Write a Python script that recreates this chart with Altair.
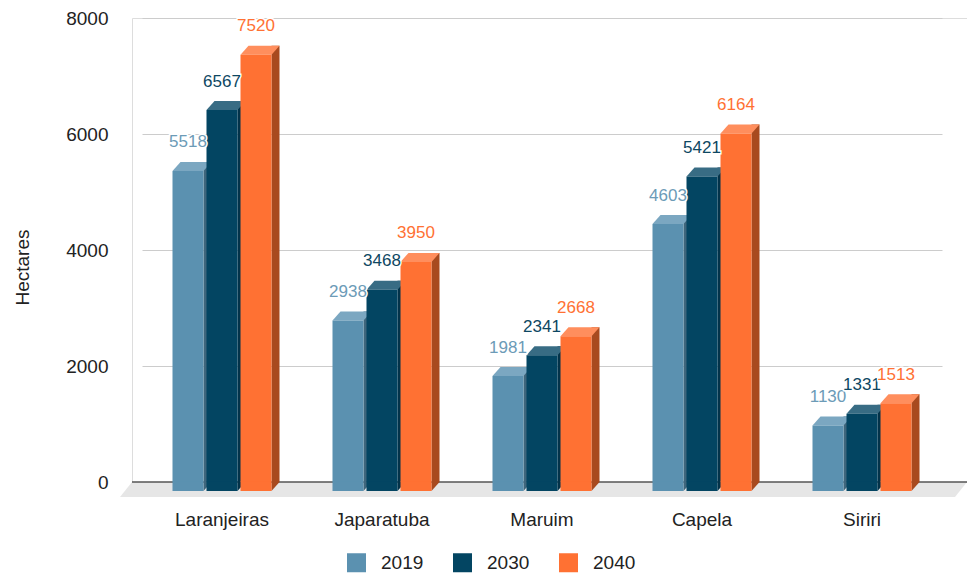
import altair as alt
import pandas as pd

regions = ["Laranjeiras", "Japaratuba", "Maruim", "Capela", "Siriri"]
years = ["2019", "2030", "2040"]
v2019 = [5518, 2938, 1981, 4603, 1130]
v2030 = [6567, 3468, 2341, 5421, 1331]
v2040 = [7520, 3950, 2668, 6164, 1513]
y_ticks = [0, 2000, 4000, 6000, 8000]

front_colors = ["#5b91b0", "#034562", "#ff7133"]
top_colors = ["#7ba7c1", "#386c84", "#ff8e5d"]
side_colors = ["#3f667c", "#02334a", "#a84a1f"]
label_colors = ["#6c9bb7", "#0d4762", "#ff7133"]
series_shift = [-34, 0, 34]

rows = []
for yr, vals in zip(years, [v2019, v2030, v2040]):
    for r, v in zip(regions, vals):
        rows.append({"region": r, "year": yr, "value": v})
df = pd.DataFrame(rows)

W, H = 835, 464
FONT = "Liberation Sans"

x_enc = alt.X(
    "region:N", sort=regions,
    scale=alt.Scale(range=[10, 810], paddingInner=0, paddingOuter=0),
    axis=alt.Axis(title=None, labelFontSize=19, labelColor="#222222", labelFont=FONT,
                  ticks=False, domain=False, labelPadding=28, labelAngle=0),
)
y_enc = alt.Y(
    "value:Q", stack=None,
    scale=alt.Scale(domain=[0, 8000], nice=False, zero=True),
    axis=alt.Axis(values=y_ticks, format="d", title="Hectares", titleFontSize=19,
                  titleFont=FONT, titleFontWeight="normal", titleColor="#222222",
                  titleAngle=-90, titleX=-110, titleY=249, titleAlign="center",
                  titleBaseline="middle",
                  labelFontSize=19, labelFont=FONT, labelColor="#222222",
                  labelPadding=24, ticks=False, domain=False,
                  grid=True, gridColor="#cccccc", gridWidth=1),
)
y_zero = alt.Y(datum=0)

color_legend = alt.Color(
    "year:N", sort=years, scale=alt.Scale(domain=years, range=front_colors),
    legend=alt.Legend(
        title=None, orient="none", direction="horizontal", legendX=215, legendY=535,
        symbolType="square", symbolSize=361, symbolStrokeWidth=0,
        labelFontSize=19, labelFont=FONT, labelColor="#222222",
        labelOffset=15, columnPadding=29, padding=0))

floor_df = pd.DataFrame({"v": [0]})
layers = [
    alt.Chart(floor_df).mark_point(
        shape="M0,0L835,0L823,15L-12,15Z", size=4, filled=True, opacity=1,
        strokeWidth=0, color="#e6e6e6"
    ).encode(x=alt.value(0), y=alt.Y("v:Q")),
    alt.Chart(floor_df).mark_rule(color="#555555", strokeWidth=1.5).encode(
        x=alt.value(0), x2=alt.value(W), y=alt.Y("v:Q")),
]

for i, yr in enumerate(years):
    s = series_shift[i]
    base = alt.Chart(df).transform_filter(alt.datum.year == yr)
    pt = dict(size=4, filled=True, opacity=1, strokeWidth=0)
    # side face: rectangle + bottom triangle
    layers.append(base.mark_bar(width=8, xOffset=s + 19.5, color=side_colors[i]).encode(
        x=x_enc, y=y_enc))
    layers.append(base.mark_point(shape="M15.5,0L23.5,0L15.5,9Z", xOffset=s,
                                  color=side_colors[i], **pt).encode(x=x_enc, y=y_zero))
    # top face
    layers.append(base.mark_point(shape="M-15.5,9L15.5,9L23.5,0L-7.5,0Z", xOffset=s,
                                  color=top_colors[i], **pt).encode(x=x_enc, y=y_enc))
    # front face: bar + bottom strip
    layers.append(base.mark_bar(width=31, xOffset=s, yOffset=9).encode(
        x=x_enc, y=y_enc, color=color_legend))
    layers.append(base.mark_point(shape="M-15.5,-0.5L15.5,-0.5L15.5,9L-15.5,9Z", xOffset=s,
                                  color=front_colors[i], **pt).encode(x=x_enc, y=y_zero))

for i, yr in enumerate(years):
    s = series_shift[i]
    base = alt.Chart(df).transform_filter(alt.datum.year == yr)
    layers.append(base.mark_text(dy=-14.5, xOffset=s, baseline="alphabetic", fontSize=17,
                                 font=FONT, stroke="white", strokeWidth=3, fill="white").encode(
        x=x_enc, y=y_enc, text="value:Q"))
    layers.append(base.mark_text(dy=-14.5, xOffset=s, baseline="alphabetic", fontSize=17,
                                 font=FONT, color=label_colors[i]).encode(
        x=x_enc, y=y_enc, text="value:Q"))

chart = alt.layer(*layers).properties(
    width=W, height=H,
    autosize=alt.AutoSizeParams(type="none"),
    padding={"left": 132, "top": 18, "right": 0, "bottom": 91},
).configure_view(stroke=None).configure(background="white")

chart.save("out.html", embed_options={"renderer": "svg", "actions": False})
